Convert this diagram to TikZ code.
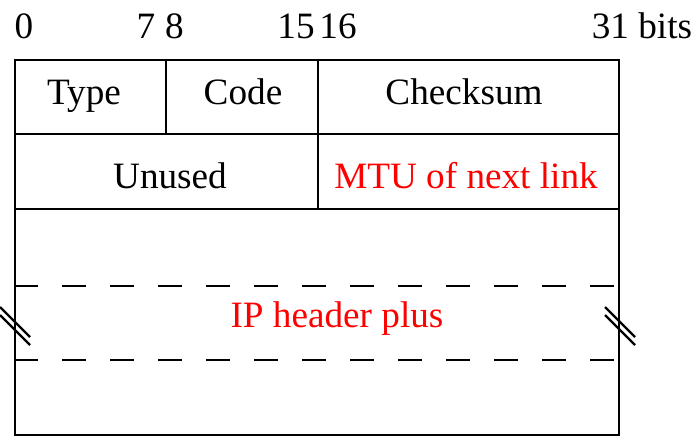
\documentclass[tikz,border=0pt]{standalone}
\usepackage{fontspec}
\setmainfont{Liberation Serif}
\begin{document}
\begin{tikzpicture}[x=1pt,y=-1pt,
  frame/.style={line width=2.8pt},
  dashrule/.style={line width=2.8pt, dash pattern=on 24pt off 24pt},
  breakmark/.style={line width=2.4pt},
  lbl/.style={inner sep=0pt, anchor=base, font=\fontsize{37.2}{40}\selectfont},
  red lbl/.style={lbl, text=red}]
\useasboundingbox (0,0) rectangle (695,436);
% frame
\coordinate (tl) at (15,60);
\coordinate (br) at (619,435);
\draw[frame] (tl) rectangle (br);
\draw[frame] (15,134) -- (619,134);
\draw[frame] (15,209) -- (619,209);
\draw[frame] (166,60) -- (166,134);
\draw[frame] (318,60) -- (318,209);
% dashed rules
\draw[dashrule] (14,286) -- (619,286);
\draw[dashrule] (14,360) -- (619,360);
% break marks
\draw[breakmark] (0,307) -- (30,337);
\draw[breakmark] (0,315) -- (30,345);
\draw[breakmark] (605,307) -- (635,337);
\draw[breakmark] (605,315) -- (635,345);
% bit labels
\node[lbl] (b0) at (24,38) {0};
\node[lbl] (b7) at (146,38) {7};
\node[lbl] (b8) at (174.5,38) {8};
\node[lbl] (b15) at (296,38) {15};
\node[lbl] (b16) at (338,38) {16};
\node[lbl] (b31) at (642,38) {31 bits};
% fields
\node[lbl] (type) at (84,104) {Type};
\node[lbl] (code) at (243,104) {Code};
\node[lbl] (cks) at (464,104) {Checksum};
\node[lbl] (unused) at (170,188) {Unused};
\node[red lbl] (mtu) at (466,188) {MTU of next link};
\node[red lbl] (ip) at (337,327) {IP header plus};
\end{tikzpicture}
\end{document}
